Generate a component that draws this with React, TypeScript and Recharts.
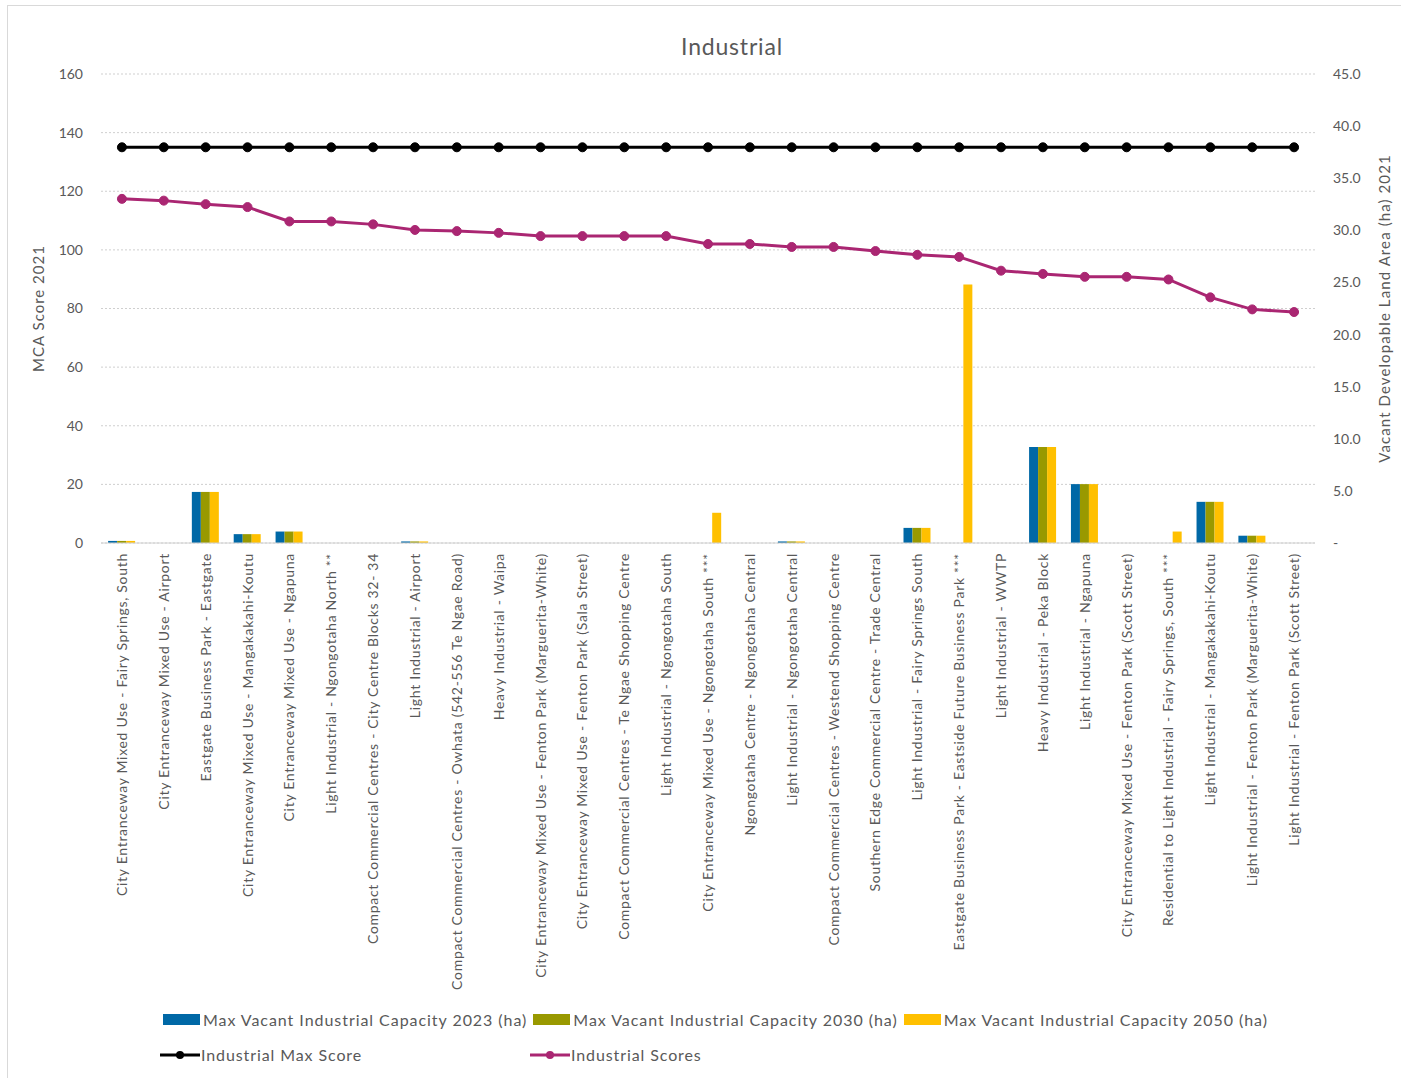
import { CartesianGrid, ComposedChart, Bar, Line, XAxis, YAxis } from "recharts";

const categories = [
  "City Entranceway Mixed Use - Fairy Springs, South",
  "City Entranceway Mixed Use - Airport",
  "Eastgate Business Park - Eastgate",
  "City Entranceway Mixed Use - Mangakakahi-Koutu",
  "City Entranceway Mixed Use - Ngapuna",
  "Light Industrial - Ngongotaha North **",
  "Compact Commercial Centres - City Centre Blocks 32- 34",
  "Light Industrial - Airport",
  "Compact Commercial Centres - Owhata (542-556 Te Ngae Road)",
  "Heavy Industrial - Waipa",
  "City Entranceway Mixed Use - Fenton Park (Marguerita-White)",
  "City Entranceway Mixed Use - Fenton Park (Sala Street)",
  "Compact Commercial Centres - Te Ngae Shopping Centre",
  "Light Industrial - Ngongotaha South",
  "City Entranceway Mixed Use - Ngongotaha South ***",
  "Ngongotaha Centre - Ngongotaha Central",
  "Light Industrial - Ngongotaha Central",
  "Compact Commercial Centres - Westend Shopping Centre",
  "Southern Edge Commercial Centre - Trade Central",
  "Light Industrial - Fairy Springs South",
  "Eastgate Business Park - Eastside Future Business Park ***",
  "Light Industrial - WWTP",
  "Heavy Industrial - Peka Block",
  "Light Industrial - Ngapuna",
  "City Entranceway Mixed Use - Fenton Park (Scott Street)",
  "Residential to Light Industrial - Fairy Springs, South ***",
  "Light Industrial - Mangakakahi-Koutu",
  "Light Industrial - Fenton Park (Marguerita-White)",
  "Light Industrial - Fenton Park (Scott Street)",
];

const cap2023 = [0.2, 0, 4.9, 0.85, 1.1, 0, 0, 0.15, 0, 0, 0, 0, 0, 0, 0, 0, 0.15, 0, 0, 1.45, 0, 0, 9.2, 5.65, 0, 0, 3.95, 0.7, 0];
const cap2030 = [0.2, 0, 4.9, 0.85, 1.1, 0, 0, 0.15, 0, 0, 0, 0, 0, 0, 0, 0, 0.15, 0, 0, 1.45, 0, 0, 9.2, 5.65, 0, 0, 3.95, 0.7, 0];
const cap2050 = [0.2, 0, 4.9, 0.85, 1.1, 0, 0, 0.15, 0, 0, 0, 0, 0, 0, 2.9, 0, 0.15, 0, 0, 1.45, 24.8, 0, 9.2, 5.65, 0, 1.1, 3.95, 0.7, 0];
const maxScore = Array(29).fill(135);
const scores = [
  117.4, 116.8, 115.6, 114.6, 109.7, 109.7, 108.7, 106.8, 106.4, 105.8, 104.7, 104.7, 104.7, 104.7, 102, 102, 101, 101,
  99.6, 98.3, 97.6, 92.9, 91.8, 90.8, 90.8, 89.9, 83.8, 79.7, 78.8,
];

const leftTicks = [0, 20, 40, 60, 80, 100, 120, 140, 160];
const rightTicks = [0, 5, 10, 15, 20, 25, 30, 35, 40, 45];

const BLUE = "#0068A6";
const OLIVE = "#999900";
const GOLD = "#FFC000";
const MAGENTA = "#AA2672";
const TEXT = "#595959";
const FONT = "Lato, 'Open Sans', sans-serif";

const data = categories.map((name, i) => ({
  name,
  c2023: cap2023[i],
  c2030: cap2030[i],
  c2050: cap2050[i],
  max: maxScore[i],
  score: scores[i],
}));

function CategoryTick({ x, y, payload }: any) {
  return (
    <text
      transform={`translate(${x + 5},${y + 2}) rotate(-90)`}
      textAnchor="end"
      fontSize={14}
      letterSpacing={0.7}
      fill={TEXT}
      fontFamily={FONT}
    >
      {payload.value}
    </text>
  );
}

function BarKey({ color, label }: { color: string; label: string }) {
  return (
    <span style={{ display: "flex", alignItems: "center", marginRight: 6 }}>
      <span style={{ width: 37, height: 11, background: color, marginRight: 3 }} />
      {label}
    </span>
  );
}

function LineKey({ color, label }: { color: string; label: string }) {
  return (
    <span style={{ display: "flex", alignItems: "center" }}>
      <svg width={42} height={12}>
        <line x1={1} y1={6} x2={41} y2={6} stroke={color} strokeWidth={3} />
        <circle cx={21} cy={6} r={4} fill={color} />
      </svg>
      {label}
    </span>
  );
}

export default function App() {
  return (
    <div
      style={{
        position: "absolute",
        left: 7,
        top: 5,
        width: 1400,
        height: 1072,
        borderLeft: "1px solid #d9d9d9",
        borderTop: "1px solid #d9d9d9",
        borderBottom: "1px solid #d9d9d9",
        background: "#fff",
        fontFamily: FONT,
        color: TEXT,
      }}
    >
      <div style={{ position: "absolute", left: 0, top: 0 }}>
        <ComposedChart
          width={1393}
          height={1072}
          data={data}
          margin={{ top: 68, right: 26, bottom: 75, left: 33 }}
          barCategoryGap="17%"
          barGap={0}
        >
          <CartesianGrid yAxisId="left" vertical={false} stroke="#cfcfcf" strokeDasharray="2 2" />
          <XAxis
            dataKey="name"
            interval={0}
            height={460}
            tick={<CategoryTick />}
            tickLine={false}
            axisLine={{ stroke: "#d0d0d0" }}
          />
          <YAxis
            yAxisId="left"
            domain={[0, 160]}
            ticks={leftTicks}
            width={60}
            tickLine={false}
            axisLine={false}
            tick={{ fontSize: 14, fill: TEXT, fontFamily: FONT }}
            tickMargin={12}
            label={{
              value: "MCA Score 2021",
              angle: -90,
              position: "insideLeft",
              offset: -2,
              style: { fontSize: 15, letterSpacing: 1, fill: TEXT, fontFamily: FONT, textAnchor: "middle" },
            }}
          />
          <YAxis
            yAxisId="right"
            orientation="right"
            domain={[0, 45]}
            ticks={rightTicks}
            width={60}
            tickLine={false}
            axisLine={false}
            tick={{ fontSize: 14, fill: TEXT, fontFamily: FONT }}
            tickMargin={12}
            tickFormatter={(v: number) => (v === 0 ? "-" : v.toFixed(1))}
            label={{
              value: "Vacant Developable Land Area (ha) 2021",
              angle: -90,
              position: "insideRight",
              offset: -10,
              style: { fontSize: 15, letterSpacing: 1.1, fill: TEXT, fontFamily: FONT, textAnchor: "middle" },
            }}
          />
          <Bar yAxisId="right" dataKey="c2023" fill={BLUE} isAnimationActive={false} />
          <Bar yAxisId="right" dataKey="c2030" fill={OLIVE} isAnimationActive={false} />
          <Bar yAxisId="right" dataKey="c2050" fill={GOLD} isAnimationActive={false} />
          <Line
            yAxisId="left"
            dataKey="max"
            stroke="#000"
            strokeWidth={3}
            dot={{ r: 4.5, fill: "#000", stroke: "#000", strokeWidth: 1 }}
            isAnimationActive={false}
          />
          <Line
            yAxisId="left"
            dataKey="score"
            stroke={MAGENTA}
            strokeWidth={3}
            dot={{ r: 4.5, fill: MAGENTA, stroke: MAGENTA, strokeWidth: 1 }}
            isAnimationActive={false}
          />
        </ComposedChart>
      </div>
      <div
        style={{
          position: "absolute",
          left: 0,
          top: 26,
          width: 1448,
          textAlign: "center",
          fontSize: 23,
          letterSpacing: 0.8,
          color: TEXT,
        }}
      >
        Industrial
      </div>
      <div
        style={{ position: "absolute", left: 155, top: 1004, fontSize: 16, letterSpacing: 0.95, display: "flex" }}
      >
        <BarKey color={BLUE} label="Max Vacant Industrial Capacity 2023 (ha)" />
        <BarKey color={OLIVE} label="Max Vacant Industrial Capacity 2030 (ha)" />
        <BarKey color={GOLD} label="Max Vacant Industrial Capacity 2050 (ha)" />
      </div>
      <div
        style={{ position: "absolute", left: 151, top: 1039, fontSize: 16, letterSpacing: 0.9, display: "flex" }}
      >
        <span style={{ width: 370 }}>
          <LineKey color="#000" label="Industrial Max Score" />
        </span>
        <LineKey color={MAGENTA} label="Industrial Scores" />
      </div>
    </div>
  );
}
